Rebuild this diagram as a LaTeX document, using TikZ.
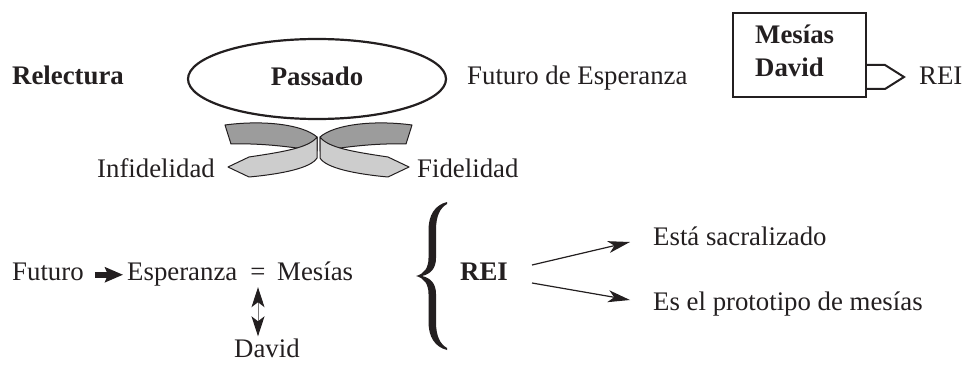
\documentclass[tikz,border=0pt]{standalone}
\usepackage{fontspec}
\setmainfont{Liberation Serif}
\usetikzlibrary{shapes.geometric,arrows.meta,calc}
\definecolor{ink}{HTML}{231F20}
\definecolor{ribdark}{HTML}{9C9C9C}
\definecolor{riblight}{HTML}{CDCDCD}
\newcommand{\ribbonshape}{%
  \filldraw[ribbonline, fill=ribdark] (225,125) .. controls (262,120) and (302,124) .. (317,137)
     -- (317,151) .. controls (292,147) and (262,143) .. (231,144) -- cycle;
  \filldraw[ribbonline, fill=riblight] (317,137) .. controls (309,148) and (282,152) .. (249,157)
     -- (228,167) -- (249,177) .. controls (282,174) and (311,168) .. (317,158) -- cycle;
}
\begin{document}
\begin{tikzpicture}[x=1pt,y=-1pt,
  every node/.style={text=ink},
  lbl/.style={inner sep=0pt, text height=18.5pt, text depth=6pt, font=\fontsize{26.8}{32}\selectfont},
  blbl/.style={lbl, font=\fontsize{26.8}{32}\selectfont\bfseries},
  ribbonline/.style={draw=ink, line width=1pt, line join=round},
  thinarr/.style={draw=ink, line width=1.2pt, -{Stealth[length=22pt,width=12pt,inset=6pt]}},
  dblarr/.style={draw=ink!60, line width=1pt, {Stealth[length=20pt,width=13pt,inset=5pt,fill=ink,color=ink]}-{Stealth[length=20pt,width=13pt,inset=5pt,fill=ink,color=ink]}},
  fatarr/.style={draw=ink, line width=6pt, -{Stealth[length=18pt,width=15pt,inset=3pt]}}
]
\useasboundingbox (0,0) rectangle (965,366);

% top row
\node[blbl, anchor=base west] (relect) at (12,85) {Relectura};
\node[draw=ink, line width=2.2pt, ellipse, minimum width=258pt, minimum height=80pt,
      inner sep=0pt, text height=18.5pt, text depth=6pt, font=\fontsize{26.8}{32}\selectfont\bfseries]
      (pas) at (317,79) {Passado};
\node[lbl, anchor=base west] (futesp) at (467,85) {Futuro de Esperanza};
\node[draw=ink, line width=2pt, minimum width=133pt, minimum height=84pt, inner sep=0pt] (box) at (799.5,55) {};
\node[blbl, anchor=base west] (bmes) at (755,44) {Mesías};
\node[blbl, anchor=base west] (bdav) at (755,77) {David};
\node[lbl, anchor=base west] (rei1) at (919,85) {REI};
\draw[draw=ink, line width=2pt, line join=miter]
  ([yshift=-10pt]box.east) -- ++(18,0) -- ++(19,12) -- ++(-19,12) -- ++(-18,0);

% ribbons
\ribbonshape
\begin{scope}[xshift=637pt, xscale=-1]
\ribbonshape
\end{scope}
\node[lbl, anchor=base east] (infid) at (215,178) {Infidelidad};
\node[lbl, anchor=base west] (fid) at (417,178) {Fidelidad};

% bottom left
\node[lbl, anchor=base west] (fut) at (12,280) {Futuro};
\node[lbl, anchor=base west] (esp) at (127,280) {Esperanza};
\node[lbl, anchor=base] (eq) at (258,280) {=};
\node[lbl, anchor=base west] (mes) at (277,280) {Mesías};
\node[lbl, anchor=base west] (dav) at (234,357) {David};
\draw[fatarr] ([xshift=11pt,yshift=-1pt]fut.east) -- ([xshift=-4pt,yshift=-1pt]esp.west);
\draw[dblarr] ([yshift=-1pt]eq.south) -- ([yshift=2pt]eq.south |- dav.north);

% brace
\fill[ink] (447,202) .. controls (435,205) and (428.5,215) .. (428.5,230) -- (428.5,258)
  .. controls (428.5,268) and (424,274) .. (416,276)
  .. controls (424,278) and (428.5,284) .. (428.5,294) -- (428.5,322)
  .. controls (428.5,337) and (435,347) .. (447,350)
  -- (447,348) .. controls (440,344) and (436,336) .. (436,322) -- (436,294)
  .. controls (436,284) and (431,278) .. (422,276)
  .. controls (431,274) and (436,268) .. (436,258) -- (436,230)
  .. controls (436,216) and (440,208) .. (447,204) -- cycle;

\node[blbl, anchor=base west] (rei2) at (460,280) {REI};
\node[lbl, anchor=base west] (esta) at (653,245) {Está sacralizado};
\node[lbl, anchor=base west] (proto) at (653,310) {Es el prototipo de mesías};
\coordinate (s1) at (532,265);
\coordinate (e1) at (630,242);
\coordinate (s2) at (532,283);
\coordinate (e2) at (630,300);
\draw[thinarr] (s1) -- (e1);
\draw[thinarr] (s2) -- (e2);
\end{tikzpicture}
\end{document}
